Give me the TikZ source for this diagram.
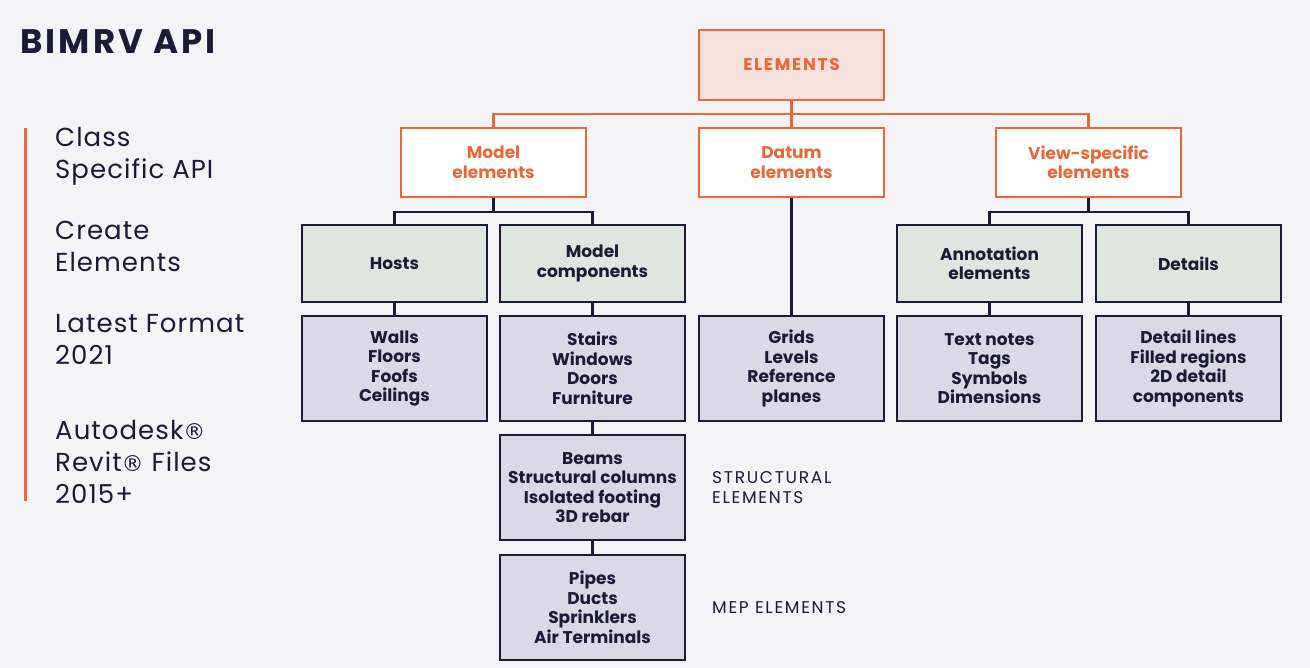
\documentclass[tikz,border=0pt]{standalone}
\usepackage{fontspec}
\setmainfont{Poppins}
\newfontfamily\regfont{DejaVu Sans}
\usetikzlibrary{positioning}

\definecolor{bg}{HTML}{F4F4F6}
\definecolor{navy}{HTML}{1B1B35}
\definecolor{brand}{HTML}{E9683A}
\definecolor{pinkfill}{HTML}{F7E1DC}
\definecolor{greenfill}{HTML}{DDE7DF}
\definecolor{lilacfill}{HTML}{DCD9E6}

\newcommand{\regmark}{{\regfont\fontsize{22}{32}\selectfont ®}}

\begin{document}
\begin{tikzpicture}
   [x=1pt,y=-1pt,
   every node/.style={inner sep=0pt,align=center,font=\fontsize{17}{19.5}\selectfont\bfseries},
   topbox/.style={draw=brand,line width=2.5pt,fill=pinkfill,text=brand,minimum width=185pt,minimum height=70pt},
   catbox/.style={draw=brand,line width=2.5pt,fill=white,text=brand,minimum width=185pt,minimum height=69pt},
   groupbox/.style={draw=navy,line width=2.5pt,fill=greenfill,text=navy,minimum width=185pt,minimum height=77pt},
   listbox/.style={draw=navy,line width=2.5pt,fill=lilacfill,text=navy,minimum width=185pt,minimum height=105pt},
   tag/.style={anchor=west,align=left,text=navy,font=\fontsize{17}{19.5}\selectfont\addfontfeatures{LetterSpace=10}},
   side/.style={anchor=north west,align=left,text=navy,font=\fontsize{26}{32}\selectfont\addfontfeatures{LetterSpace=4}},
   orangeline/.style={draw=brand,line width=2.5pt},
   navyline/.style={draw=navy,line width=2.5pt}]

   \fill[bg] (0,0) rectangle (1310,668);

   \node[anchor=west,text=navy,font=\fontsize{34}{36}\selectfont\bfseries\addfontfeatures{LetterSpace=9}] (title) at (20,42) {BIMRV API};
   \fill[brand] (24,128) rectangle (27,501);
   \node[side] (class)  at (55,127) {Class\\Specific API};
   \node[side] (create) at (55,221) {Create\\Elements};
   \node[side] (latest) at (55,314) {Latest Format\\2021};
   \node[side] (revit)  at (55,420) {Autodesk\regmark\\Revit\regmark{} Files\\2015+};

   \node[topbox,font=\fontsize{17}{19.5}\selectfont\bfseries\addfontfeatures{LetterSpace=10}] (elements) at (791.5,65) {ELEMENTS};

   \node[catbox] (model) at (493.5,162.5)  {Model\\elements};
   \node[catbox] (datum) at (791.5,162.5)  {Datum\\elements};
   \node[catbox] (view)  at (1088.5,162.5) {View-specific\\elements};

   \node[groupbox] (hosts)   at (394.5,263.5)  {Hosts};
   \node[groupbox] (comps)   at (592.5,263.5)  {Model\\components};
   \node[groupbox] (annot)   at (989.5,263.5)  {Annotation\\elements};
   \node[groupbox] (details) at (1188.5,263.5) {Details};

   \node[listbox] (walls)  at (394.5,368.5)  {Walls\\Floors\\Foofs\\Ceilings};
   \node[listbox] (stairs) at (592.5,368.5)  {Stairs\\Windows\\Doors\\Furniture};
   \node[listbox] (grids)  at (791.5,368.5)  {Grids\\Levels\\Reference\\planes};
   \node[listbox] (notes)  at (989.5,368.5)  {Text notes\\Tags\\Symbols\\Dimensions};
   \node[listbox] (dlines) at (1188.5,368.5) {Detail lines\\Filled regions\\2D detail\\components};
   \node[listbox] (beams)  at (592.5,487.5)  {Beams\\Structural columns\\Isolated footing\\3D rebar};
   \node[listbox] (pipes)  at (592.5,607.5)  {Pipes\\Ducts\\Sprinklers\\Air Terminals};

   \node[tag] (structural) at (712,487.5) {STRUCTURAL\\ELEMENTS};
   \node[tag] (mep)        at (712,607.5) {MEP ELEMENTS};

   % top level
   \draw[orangeline] (elements.south) -- ++(0,13) coordinate (split) -| (model.north);
   \draw[orangeline] (split) -| (view.north);
   \draw[orangeline] (split) -- (datum.north);

   % model elements
   \draw[navyline] (model.south) -- ++(0,14) coordinate (msplit) -| (hosts.north);
   \draw[navyline] (msplit) -| (comps.north);
   \draw[navyline] (hosts) -- (walls);
   \draw[navyline] (comps) -- (stairs);
   \draw[navyline] (stairs) -- (beams);
   \draw[navyline] (beams) -- (pipes);

   % datum elements
   \draw[navyline] (datum) -- (grids);

   % view-specific elements
   \draw[navyline] (view.south) -- ++(0,14) coordinate (vsplit) -| (annot.north);
   \draw[navyline] (vsplit) -| (details.north);
   \draw[navyline] (annot) -- (notes);
   \draw[navyline] (details) -- (dlines);
\end{tikzpicture}
\end{document}
